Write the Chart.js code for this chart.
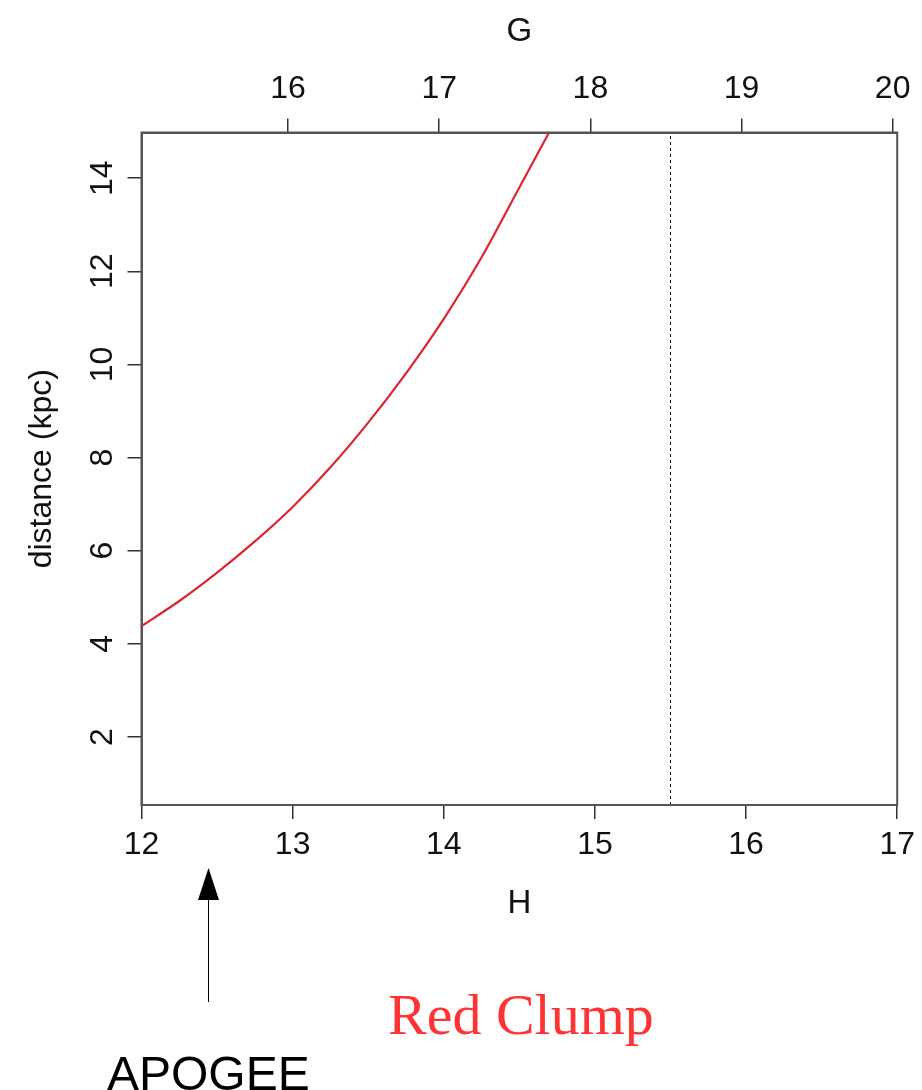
<!DOCTYPE html>
<html>
<head>
<meta charset="utf-8">
<script src="https://cdn.jsdelivr.net/npm/chart.js@4.4.1/dist/chart.umd.min.js"></script>
<style>
  html, body { margin: 0; padding: 0; background: #fff; }
  #wrap { position: relative; width: 922px; height: 1090px; overflow: hidden; }
  #chart { position: absolute; left: 0; top: 0; }
  .note { position: absolute; white-space: nowrap; line-height: 1; }
  #apogee { left: 107px; top: 1046px; font: 48px "Liberation Sans", Arial, sans-serif; color: #000; }
  #rc { left: 388px; top: 981px; font: 58px "Liberation Serif", "Times New Roman", serif; color: #ff3333; }
</style>
</head>
<body>
<div id="wrap">
  <canvas id="chart" width="922" height="1090"></canvas>
  <div class="note" id="apogee">APOGEE</div>
  <div class="note" id="rc">Red Clump</div>
</div>
<script>
// red clump distance vs apparent H magnitude
const hMag    = [12.0, 12.25, 12.5, 12.75, 13.0, 13.25, 13.5, 13.75, 14.0, 14.25, 14.5, 14.7];
const distKpc = [4.38, 4.92, 5.53, 6.2, 6.94, 7.79, 8.75, 9.81, 10.98, 12.3, 13.8, 15.0];

const hTicks = [12, 13, 14, 15, 16, 17];
const gTicks = [16, 17, 18, 19, 20];
const dTicks = [2, 4, 6, 8, 10, 12, 14];

const hRange = [12, 17];
const dRange = [0.54, 14.98];
const gMinusH = 3.03;   // top axis offset, G = H + 3.03
const rcLimitH = 15.5;  // dotted limit line

const tickFont = { family: "Liberation Sans", size: 32 };
const axisCol = "#555";
const tickCol = "#333";

const fixTicks = (vals) => (scale) => { scale.ticks = vals.map((v) => ({ value: v })); };

// frame round the plot + arrow under the x axis
const framePlugin = {
  id: "frame",
  afterDraw(chart) {
    const { ctx, chartArea: a } = chart;
    ctx.save();
    ctx.strokeStyle = axisCol;
    ctx.lineWidth = 2;
    ctx.strokeRect(a.left, a.top, a.right - a.left, a.bottom - a.top);

    // APOGEE arrow
    const ax = 208;
    ctx.strokeStyle = "#000";
    ctx.lineWidth = 1;
    ctx.beginPath();
    ctx.moveTo(ax + 0.5, 1002);
    ctx.lineTo(ax + 0.5, 895);
    ctx.stroke();
    ctx.fillStyle = "#000";
    ctx.beginPath();
    ctx.moveTo(ax + 0.5, 868);
    ctx.lineTo(ax - 10, 900);
    ctx.lineTo(ax + 11, 900);
    ctx.closePath();
    ctx.fill();
    ctx.restore();
  },
};

new Chart(document.getElementById("chart"), {
  type: "line",
  data: {
    datasets: [
      {
        data: hMag.map((h, i) => ({ x: h, y: distKpc[i] })),
        borderColor: "#dd2430",
        borderWidth: 2.2,
        pointRadius: 0,
        tension: 0.3,
        fill: false,
      },
      {
        data: [{ x: rcLimitH, y: dRange[0] }, { x: rcLimitH, y: dRange[1] }],
        borderColor: "#000",
        borderWidth: 1,
        borderDash: [3, 3],
        pointRadius: 0,
        fill: false,
      },
    ],
  },
  options: {
    responsive: false,
    animation: false,
    layout: { padding: { left: 0, top: 0, right: 21, bottom: 155 } },
    plugins: { legend: { display: false }, tooltip: { enabled: false } },
    scales: {
      x: {
        type: "linear", position: "bottom", min: hRange[0], max: hRange[1],
        afterBuildTicks: fixTicks(hTicks),
        afterFit: (s) => { s.height = 130; },
        grid: { drawOnChartArea: false, tickLength: 14, color: tickCol, lineWidth: 1.5 },
        border: { color: axisCol, width: 2 },
        ticks: { color: "#111", font: tickFont, padding: 7, maxRotation: 0, autoSkip: false },
        title: { display: true, text: "H", color: "#111", font: { family: "Liberation Sans", size: 33 }, padding: { top: 0, bottom: 11 } },
      },
      x2: {
        type: "linear", axis: "x", position: "top", min: hRange[0] + gMinusH, max: hRange[1] + gMinusH,
        afterBuildTicks: fixTicks(gTicks),
        afterFit: (s) => { s.height = 132.5; },
        grid: { drawOnChartArea: false, tickLength: 14, color: tickCol, lineWidth: 1.5 },
        border: { color: axisCol, width: 2 },
        ticks: { color: "#111", font: tickFont, padding: 10, maxRotation: 0, autoSkip: false },
        title: { display: true, text: "G", color: "#111", font: { family: "Liberation Sans", size: 33 }, padding: { top: 12, bottom: 0 } },
      },
      y: {
        type: "linear", position: "left", min: dRange[0], max: dRange[1],
        afterBuildTicks: fixTicks(dTicks),
        afterFit: (s) => { s.width = 141.5; },
        grid: { drawOnChartArea: false, tickLength: 14, color: tickCol, lineWidth: 1.5 },
        border: { color: axisCol, width: 2 },
        ticks: { color: "#111", font: tickFont, padding: 7, minRotation: 90, maxRotation: 90, crossAlign: "center", autoSkip: false },
        title: { display: true, text: "distance (kpc)", color: "#111", font: { family: "Liberation Sans", size: 32 }, padding: { top: 23, bottom: 0 } },
      },
    },
  },
  plugins: [framePlugin],
});
</script>
</body>
</html>
